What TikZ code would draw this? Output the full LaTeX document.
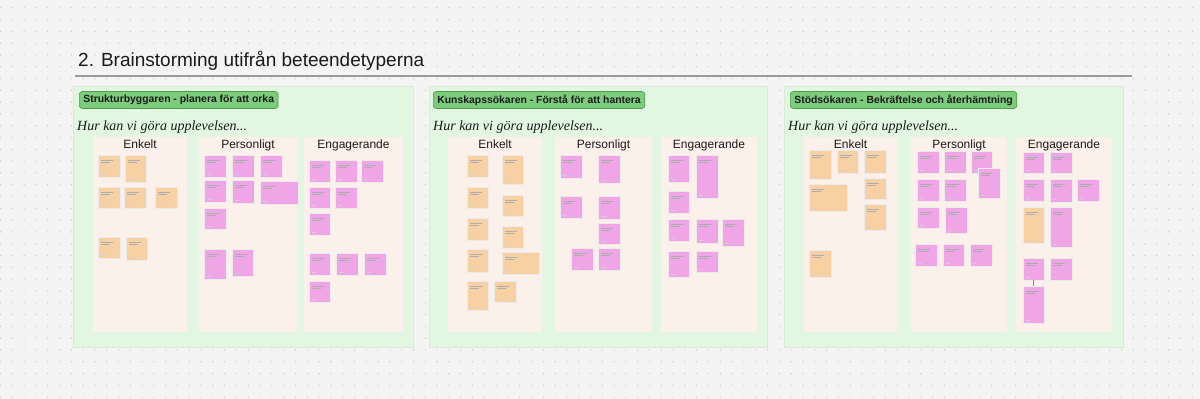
\documentclass[tikz,border=0pt]{standalone}
\usepackage{fontspec}
\setmainfont{Liberation Sans}
\newfontfamily\handfont{Liberation Serif}
\usetikzlibrary{arrows.meta}
\definecolor{bgc}{HTML}{F4F4F4}
\definecolor{dotc}{HTML}{CACACA}
\definecolor{panelc}{HTML}{E2F6E2}
\definecolor{panelb}{HTML}{D6ECD6}
\definecolor{colc}{HTML}{FCF0EA}
\definecolor{tagc}{HTML}{7DCC7D}
\definecolor{tagb}{HTML}{4E9E4E}
\definecolor{orc}{HTML}{F7D0A3}
\definecolor{pkc}{HTML}{F0A6E6}
\definecolor{txc}{HTML}{1A1A1A}
\definecolor{rulec}{HTML}{9A9A9A}
\newcommand\stk[6]{\node[#2, minimum width={(#5-#3)*1pt}, minimum height={(#6-#4)*1pt}] (#1) at ({(#3+#5)/2},{(#4+#6)/2}) {};}
\tikzset{
  box/.style={inner sep=0pt, outer sep=0pt, rectangle},
  panel/.style={box, fill=panelc, draw=panelb, line width=0.5pt},
  column/.style={box, fill=colc},
  scribble/.style={path picture={
    \draw[black!32, line width=0.3pt]
      ([shift={(3,5)}]path picture bounding box.north west) -- ++(12,0)
      ([shift={(3,7.5)}]path picture bounding box.north west) -- ++(9,0);
    \draw[black!18, line width=0.3pt]
      ([shift={(3,-3)}]path picture bounding box.south west) -- ++(4,0);}},
  on/.style={box, fill=orc, draw=black!8, line width=0.3pt, scribble},
  pn/.style={box, fill=pkc, draw=black!8, line width=0.3pt, scribble},
  tag/.style={anchor=west, fill=tagc, draw=tagb, line width=0.7pt, rounded corners=3pt,
    inner xsep=4pt, minimum height=17pt, inner ysep=0pt, text=txc,
    font=\fontsize{10.4}{12}\selectfont\bfseries},
  hand/.style={anchor=base west, inner sep=0pt, text=txc,
    font=\handfont\itshape\fontsize{14}{16}\selectfont},
  hdr/.style={anchor=base, inner sep=0pt, text=txc, font=\fontsize{12}{14}\selectfont},
  conn/.style={draw=black!45, line width=0.5pt, -{Latex[length=1.5pt,width=1.5pt]}},
}
\begin{document}
\begin{tikzpicture}[x=1pt,y=-1pt]
\useasboundingbox (0,0) rectangle (1200,399);
\fill[bgc] (0,0) rectangle (1200,399);
\foreach \i in {0,...,101}{
  \foreach \j in {0,...,33}{
    \fill[dotc] ({0.5+11.8*\i},{7.7+11.8*\j}) circle (0.7);
  }
}
% title
\node[anchor=base west, inner sep=0pt, text=txc, font=\fontsize{19}{22}\selectfont] (title) at (78,66) {2. Brainstorming utifrån beteendetyperna};
\coordinate (rl) at (75,76);
\coordinate (rr) at (1132,76);
\draw[rulec, line width=1.2pt] (rl) -- (rr);
% panels
\stk{P1}{panel}{73}{86}{413}{347}
\stk{P2}{panel}{429}{86}{767}{347}
\stk{P3}{panel}{784}{86}{1123}{347}
% tags
\node[tag] (t1) at (79,100) {Strukturbyggaren - planera för att orka};
\node[tag] (t2) at (433,100) {Kunskapssökaren - Förstå för att hantera};
\node[tag] (t3) at (790,100) {Stödsökaren - Bekräftelse och återhämtning};
% handwriting
\node[hand] (w1) at (77,130) {Hur kan vi göra upplevelsen...};
\node[hand] (w2) at (433,130) {Hur kan vi göra upplevelsen...};
\node[hand] (w3) at (788,130) {Hur kan vi göra upplevelsen...};
% columns
\stk{C11}{column}{93}{137}{187}{332}
\stk{C12}{column}{199}{137}{297}{332}
\stk{C13}{column}{304}{137}{403}{332}
\stk{C21}{column}{448}{137}{542}{332}
\stk{C22}{column}{555}{137}{652}{332}
\stk{C23}{column}{661}{137}{757}{332}
\stk{C31}{column}{804}{137}{897}{332}
\stk{C32}{column}{911}{137}{1007}{332}
\stk{C33}{column}{1016}{137}{1112}{332}
\foreach \c/\t in {C11/Enkelt,C12/Personligt,C13/Engagerande,C21/Enkelt,C22/Personligt,C23/Engagerande,C31/Enkelt,C32/Personligt,C33/Engagerande}{
  \path (\c.north) ++(0,11.5) node[hdr] (h\c) {\t};
}
% panel 1 notes
\stk{a1}{on}{98}{155}{120}{177}
\stk{a2}{on}{125}{155}{146}{182}
\stk{a3}{on}{98}{187}{120}{208}
\stk{a4}{on}{124}{187}{146}{208}
\stk{a5}{on}{155}{187}{177}{208}
\stk{a6}{on}{98}{237}{120}{258}
\stk{a7}{on}{126}{237}{147}{260}
\stk{b1}{pn}{204}{155}{226}{177}
\stk{b2}{pn}{232}{155}{254}{177}
\stk{b3}{pn}{260}{155}{282}{177}
\stk{b4}{pn}{204}{180}{226}{202}
\stk{b5}{pn}{232}{180}{254}{203}
\stk{b6}{pn}{260}{181}{298}{204}
\stk{b7}{pn}{204}{208}{226}{229}
\stk{b8}{pn}{204}{249}{226}{279}
\stk{b9}{pn}{232}{249}{253}{276}
\stk{c1}{pn}{309}{160}{330}{182}
\stk{c2}{pn}{335}{160}{357}{182}
\stk{c3}{pn}{361}{160}{383}{182}
\stk{c4}{pn}{309}{187}{330}{208}
\stk{c5}{pn}{335}{187}{357}{208}
\stk{c6}{pn}{309}{213}{330}{235}
\stk{c7}{pn}{309}{253}{330}{275}
\stk{c8}{pn}{336}{253}{358}{275}
\stk{c9}{pn}{364}{253}{386}{275}
\stk{c10}{pn}{309}{281}{330}{302}
% panel 2 notes
\stk{d1}{on}{467}{155}{488}{177}
\stk{d2}{on}{502}{155}{523}{184}
\stk{d3}{on}{467}{187}{488}{208}
\stk{d4}{on}{502}{195}{523}{216}
\stk{d5}{on}{467}{218}{488}{240}
\stk{d6}{on}{502}{226}{523}{248}
\stk{d7}{on}{467}{249}{488}{272}
\stk{d8}{on}{502}{252}{539}{274}
\stk{d9}{on}{467}{281}{488}{310}
\stk{d10}{on}{494}{281}{516}{302}
\stk{e1}{pn}{560}{155}{582}{178}
\stk{e2}{pn}{598}{155}{620}{183}
\stk{e3}{pn}{560}{196}{582}{218}
\stk{e4}{pn}{598}{196}{620}{219}
\stk{e5}{pn}{598}{223}{620}{244}
\stk{e6}{pn}{571}{248}{593}{270}
\stk{e7}{pn}{598}{248}{620}{270}
\stk{f1}{pn}{668}{155}{689}{182}
\stk{f2}{pn}{696}{155}{718}{198}
\stk{f3}{pn}{668}{191}{689}{213}
\stk{f4}{pn}{668}{219}{689}{241}
\stk{f5}{pn}{696}{219}{718}{243}
\stk{f6}{pn}{722}{219}{744}{246}
\stk{f7}{pn}{668}{251}{689}{277}
\stk{f8}{pn}{696}{251}{718}{272}
% panel 3 notes
\stk{g1}{on}{809}{150}{831}{179}
\stk{g2}{on}{837}{150}{858}{173}
\stk{g3}{on}{864}{150}{886}{173}
\stk{g4}{on}{809}{184}{847}{211}
\stk{g5}{on}{864}{178}{886}{199}
\stk{g6}{on}{864}{204}{886}{230}
\stk{g7}{on}{809}{250}{831}{277}
\stk{h1}{pn}{917}{151}{939}{173}
\stk{h2}{pn}{944}{151}{966}{173}
\stk{h3}{pn}{971}{151}{992}{173}
\stk{h4}{pn}{978}{168}{1000}{198}
\stk{h5}{pn}{917}{179}{939}{201}
\stk{h6}{pn}{944}{179}{966}{201}
\stk{h7}{pn}{917}{207}{939}{228}
\stk{h8}{pn}{945}{207}{967}{233}
\stk{h9}{pn}{915}{244}{937}{266}
\stk{h10}{pn}{943}{244}{964}{266}
\stk{h11}{pn}{970}{244}{992}{266}
\stk{k1}{pn}{1023}{152}{1044}{173}
\stk{k2}{pn}{1050}{152}{1072}{173}
\stk{k3}{pn}{1023}{179}{1044}{201}
\stk{k4}{pn}{1050}{179}{1072}{202}
\stk{k5}{pn}{1077}{179}{1099}{201}
\stk{k6}{on}{1023}{207}{1044}{243}
\stk{k7}{pn}{1050}{207}{1072}{247}
\stk{k8}{pn}{1023}{258}{1044}{280}
\stk{k9}{pn}{1050}{258}{1072}{280}
\stk{k10}{pn}{1023}{286}{1044}{323}
\draw[conn] (k8) -- (k10);
\end{tikzpicture}
\end{document}
